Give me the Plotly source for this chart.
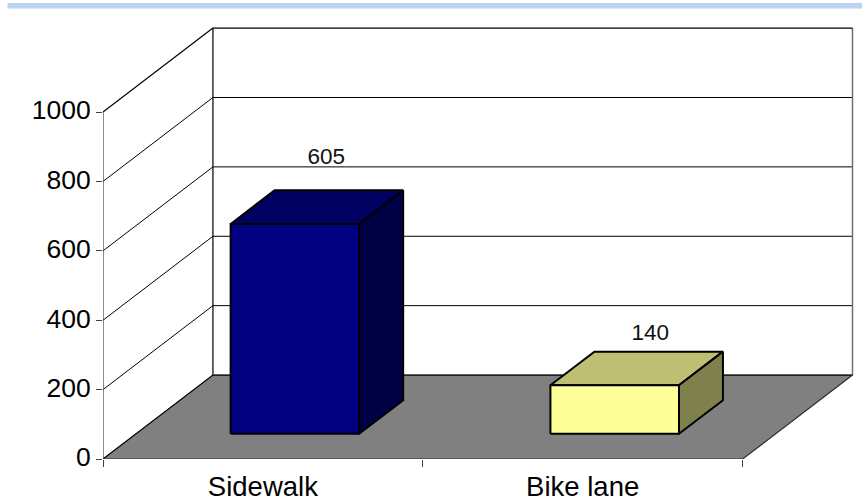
import plotly.graph_objects as go

categories = ["Sidewalk", "Bike lane"]
values = [605, 140]
y_ticks = [0, 200, 400, 600, 800, 1000]
front_colors = ["#000080", "#FFFF99"]
top_colors = ["#000060", "#BFBF73"]
side_colors = ["#000045", "#80804D"]
label_dx = [0.198, 0.211]
label_dy = [262, 219]

# oblique projection: depth z in 0..1 shifts x and y
DX, DY = 0.34375, 242.0
BAR_W, Z0, Z1 = 0.402, 0.30, 0.70
YMAX = max(y_ticks)
NCAT = len(categories)


def P(x, y, z):
    return x + DX * z, y + DY * z


def poly(pts, fill=None, line="black", width=1.0, closed=True):
    xs, ys = zip(*[P(*p) for p in pts])
    xs, ys = list(xs), list(ys)
    if closed:
        xs.append(xs[0])
        ys.append(ys[0])
    return go.Scatter(
        x=xs, y=ys, mode="lines",
        fill="toself" if fill else "none",
        fillcolor=fill,
        line=dict(color=line, width=width),
        hoverinfo="skip", showlegend=False,
    )


fig = go.Figure()

# floor
fig.add_trace(poly([(0, 0, 0), (NCAT, 0, 0), (NCAT, 0, 1), (0, 0, 1)], fill="#808080", line="#808080", width=1))

# gridlines on side wall and back wall
for v in y_ticks[1:-1]:
    fig.add_trace(poly([(0, v, 0), (0, v, 1), (NCAT, v, 1)], width=1, closed=False))

# frame of walls
fig.add_trace(poly([(NCAT, 0, 1), (NCAT, YMAX, 1)], line="#707070", width=1.5, closed=False))
fig.add_trace(poly([(0, 0, 0), (0, YMAX, 0)], line="#202020", width=1, closed=False))
fig.add_trace(poly([(0, 0, 1), (0, YMAX, 1), (NCAT, YMAX, 1)], width=1.2, closed=False))
fig.add_trace(poly([(0, YMAX, 0), (0, YMAX, 1)], width=1.2, closed=False))
fig.add_trace(poly([(0, 0, 0), (0, 0, 1), (NCAT, 0, 1)], width=1.2, closed=False))
fig.add_trace(poly([(0, 0, 0), (NCAT, 0, 0), (NCAT, 0, 1)], line="#303030", width=1.2, closed=False))

# bars
for i, v in enumerate(values):
    x0 = i + 0.497 - BAR_W / 2
    x1 = i + 0.497 + BAR_W / 2
    fig.add_trace(poly([(x0, v, Z0), (x1, v, Z0), (x1, v, Z1), (x0, v, Z1)], fill=top_colors[i], width=2))
    fig.add_trace(poly([(x1, 0, Z0), (x1, 0, Z1), (x1, v, Z1), (x1, v, Z0)], fill=side_colors[i], width=2))
    fig.add_trace(poly([(x0, 0, Z0), (x1, 0, Z0), (x1, v, Z0), (x0, v, Z0)], fill=front_colors[i], width=2))

# data labels
fig.add_trace(go.Scatter(
    x=[i + 0.5 + label_dx[i] for i in range(NCAT)],
    y=[values[i] + label_dy[i] for i in range(NCAT)],
    text=[str(v) for v in values],
    mode="text", textposition="middle center",
    textfont=dict(family="Liberation Sans, Arial, sans-serif", size=22.5, color="#111111"),
    hoverinfo="skip", showlegend=False,
))

W, H = 862, 501
L, B, T, R = 102.5, 42.3, 20, 2
PX_CAT = 320.0
PX_UNIT = 0.3467

fig.update_layout(
    width=W, height=H, autosize=False,
    margin=dict(l=L, r=R, t=T, b=B, pad=0),
    paper_bgcolor="white", plot_bgcolor="white",
    showlegend=False,
    font=dict(family="Liberation Sans, Arial, sans-serif", size=26, color="black"),
    xaxis=dict(
        automargin=False,
        range=[0, (W - L - R) / PX_CAT],
        tickmode="array",
        tickvals=[i + 0.5 for i in range(NCAT)],
        ticktext=categories,
        ticks="", showgrid=False, zeroline=False, showline=False,
        tickfont=dict(size=27.5),
        ticklabelstandoff=8,
        minor=dict(tickmode="array", tickvals=list(range(NCAT + 1)),
                   ticks="outside", ticklen=7, tickcolor="#404040", tickwidth=1, showgrid=False),
    ),
    yaxis=dict(
        automargin=False,
        range=[0, (H - B - T) / PX_UNIT],
        tickmode="array",
        tickvals=y_ticks,
        ticktext=[str(t) for t in y_ticks],
        ticks="outside", ticklen=6, tickcolor="#404040", tickwidth=1,
        showgrid=False, zeroline=False, showline=False,
        tickfont=dict(size=26.5),
        ticklabelshift=-2,
    ),
    shapes=[dict(type="rect", xref="paper", yref="paper",
                 x0=(7 - L) / (W - L - R), x1=1 + R / (W - L - R),
                 y0=1 + (T - 8.5) / (H - B - T), y1=1 + (T - 3) / (H - B - T),
                 fillcolor="#B8D4F0", line=dict(width=0), layer="above")],
)

fig.write_html("out.html", config={"displayModeBar": False},
               post_script="document.body.style.margin='0';document.body.style.overflow='hidden';")
